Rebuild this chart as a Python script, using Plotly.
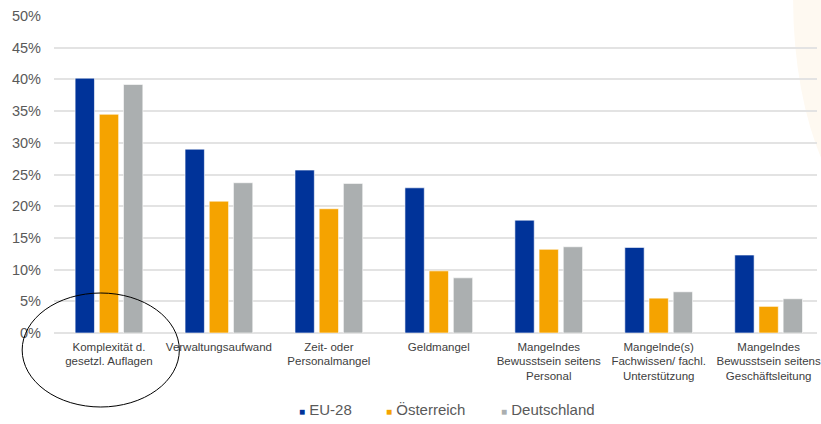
import plotly.graph_objects as go

categories = [
    "Komplexität d.<br>gesetzl. Auflagen",
    "Verwaltungsaufwand",
    "Zeit- oder<br>Personalmangel",
    "Geldmangel",
    "Mangelndes<br>Bewusstsein seitens<br>Personal",
    "Mangelnde(s)<br>Fachwissen/ fachl.<br>Unterstützung",
    "Mangelndes<br>Bewusstsein seitens<br>Geschäftsleitung",
]
eu28 = [40.2, 29.0, 25.7, 22.9, 17.8, 13.5, 12.3]
oesterreich = [34.5, 20.8, 19.6, 9.8, 13.2, 5.5, 4.2]
deutschland = [39.2, 23.7, 23.6, 8.7, 13.6, 6.5, 5.4]

series = [
    ("EU-28", eu28, "#003399"),
    ("Österreich", oesterreich, "#F5A300"),
    ("Deutschland", deutschland, "#ABAFB0"),
]

fig = go.Figure()
for name, vals, color in series:
    fig.add_trace(go.Bar(
        x=list(range(len(categories))), y=vals, name=name, showlegend=False,
        marker=dict(color=color, line=dict(color="rgba(255,255,255,0.6)", width=1)),
    ))

W, H = 821, 424
ml, mr, mt, mb = 54, 0, 16, 91
pw, ph = W - ml - mr, H - mt - mb

def px_to_paper(x, y):
    return (x - ml) / pw, (H - mb - y) / ph

x0, y0 = px_to_paper(22, 407)
x1, y1 = px_to_paper(180, 293)

# faint beige backdrop at the top right
bx0, by0 = px_to_paper(797, 230)
bx1, by1 = px_to_paper(1003, -230)

# legend drawn as text items (small coloured squares + names)
legend_x_px = [298, 386, 501]
annotations = []
for (name, _, color), lx in zip(series, legend_x_px):
    ax, ay = px_to_paper(lx, 409)
    annotations.append(dict(
        xref="paper", yref="paper", x=ax, y=ay, xanchor="left", yanchor="middle",
        showarrow=False,
        text=f'<span style="color:{color};font-size:10px">■</span> {name}',
        font=dict(size=15, color="#595959", family="Liberation Sans, Arial, sans-serif"),
    ))

fig.update_layout(
    width=W, height=H,
    margin=dict(l=ml, r=mr, t=mt, b=mb),
    paper_bgcolor="white", plot_bgcolor="rgba(0,0,0,0)",
    barmode="group", bargap=0.34, bargroupgap=0.2,
    font=dict(family="Liberation Sans, Arial, sans-serif", color="#595959"),
    showlegend=False,
    xaxis=dict(
        tickmode="array", tickvals=list(range(len(categories))), ticktext=categories,
        range=[-0.5, 6.44], showgrid=False, zeroline=False, showline=False,
        tickfont=dict(size=11.5, color="#404040"), tickangle=0,
        ticklabeloverflow="allow", ticklabelstandoff=5,
    ),
    yaxis=dict(
        range=[0, 50], dtick=5, ticksuffix="%", showgrid=True,
        gridcolor="#E3E3E3", gridwidth=1.5, zeroline=True, zerolinecolor="#E3E3E3",
        zerolinewidth=1.5, tickfont=dict(size=14.5, color="#595959"),
        ticklabelstandoff=12,
    ),
    annotations=annotations,
    shapes=[
        dict(
            type="circle", xref="paper", yref="paper", layer="below",
            x0=bx0, x1=bx1, y0=by0, y1=by1,
            fillcolor="#FEF9F1", line=dict(width=0),
        ),
        dict(
            type="circle", xref="paper", yref="paper",
            x0=x0, x1=x1, y0=y0, y1=y1,
            line=dict(color="black", width=1),
        ),
    ],
)

fig.write_html("out.html")
